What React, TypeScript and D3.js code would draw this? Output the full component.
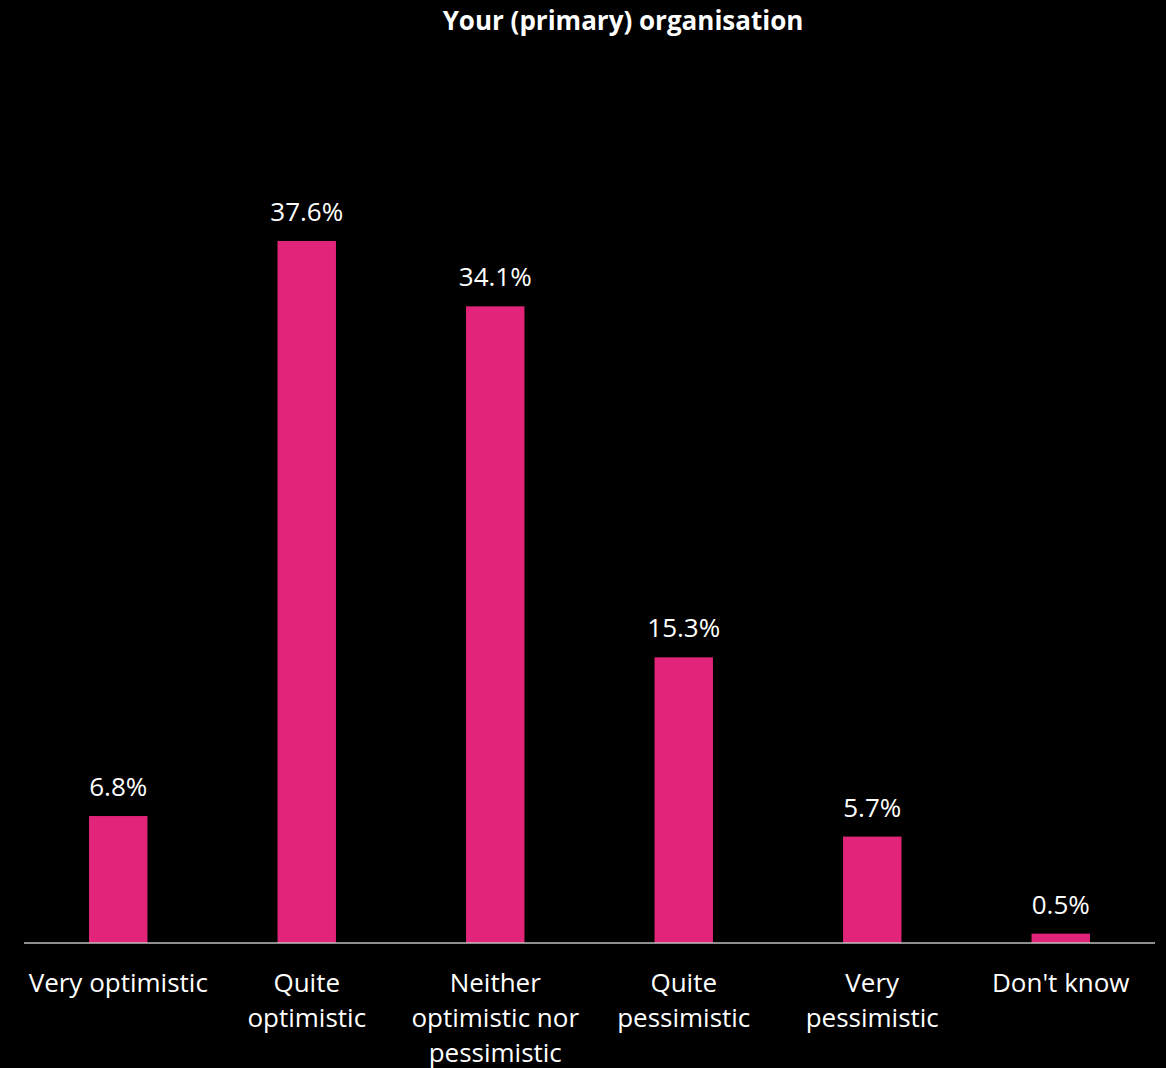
import React from "react";
import * as d3 from "d3";

const categories: string[][] = [
  ["Very optimistic"],
  ["Quite", "optimistic"],
  ["Neither", "optimistic nor", "pessimistic"],
  ["Quite", "pessimistic"],
  ["Very", "pessimistic"],
  ["Don't know"],
];
const values: number[] = [6.8, 37.6, 34.1, 15.3, 5.7, 0.5];
const title = "Your (primary) organisation";

const W = 1166;
const H = 1068;
const FONT = "'Open Sans', sans-serif";

export default function App() {
  const left = 24;
  const right = 1155;
  const baseY = 943;
  const x = d3
    .scaleBand<number>()
    .domain(values.map((_, i) => i))
    .range([left, right])
    .paddingInner(0.69)
    .paddingOuter(0.345);
  const y = d3.scaleLinear().domain([0, 37.6]).range([baseY, 241]);

  return (
    <svg
      width={W}
      height={H}
      style={{ position: "absolute", left: 0, top: 0, background: "#000" }}
    >
      <rect x={0} y={0} width={W} height={H} fill="#000" />
      <text
        x={623}
        y={30}
        textAnchor="middle"
        fill="#fff"
        fontFamily={FONT}
        fontWeight="bold"
        fontSize={26}
      >
        {title}
      </text>
      {values.map((v, i) => {
        const bx = x(i)!;
        const cx = bx + x.bandwidth() / 2;
        return (
          <g key={i}>
            <rect
              x={bx}
              y={y(v)}
              width={x.bandwidth()}
              height={baseY - y(v)}
              fill="#E2257A"
            />
            <text
              x={cx}
              y={y(v) - 20}
              textAnchor="middle"
              fill="#fff"
              fontFamily={FONT}
              fontSize={26}
            >
              {v.toFixed(1)}%
            </text>
            {categories[i].map((line, j) => (
              <text
                key={j}
                x={cx}
                y={992 + j * 35}
                textAnchor="middle"
                fill="#fff"
                fontFamily={FONT}
                fontSize={26}
              >
                {line}
              </text>
            ))}
          </g>
        );
      })}
      <line
        x1={left}
        x2={right}
        y1={baseY}
        y2={baseY}
        stroke="#bfbfbf"
        strokeWidth={1.5}
      />
    </svg>
  );
}
